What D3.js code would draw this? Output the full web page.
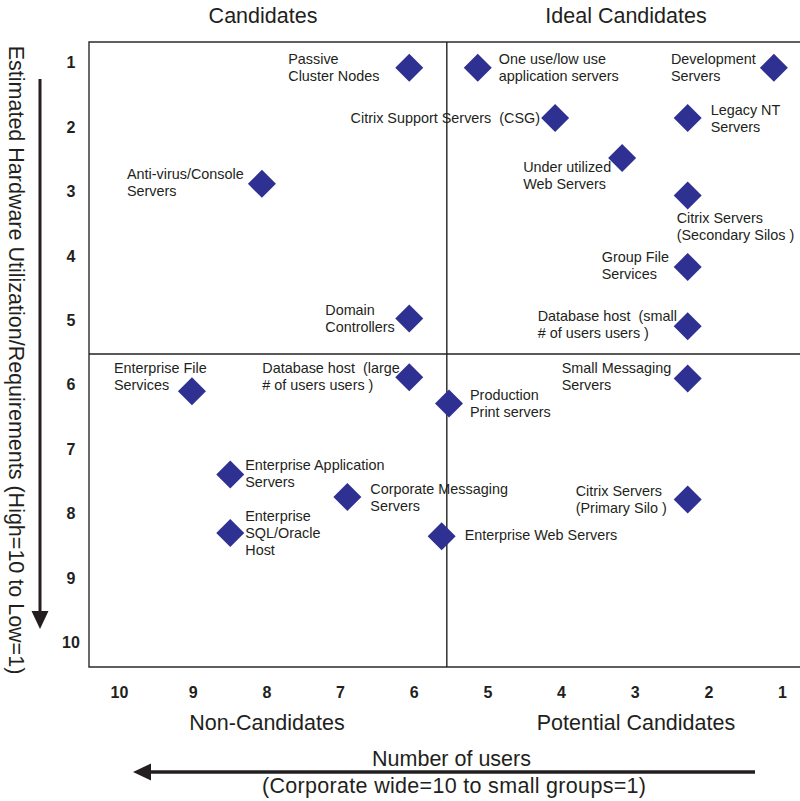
<!DOCTYPE html>
<html>
<head>
<meta charset="utf-8">
<script src="https://cdn.jsdelivr.net/npm/d3@7"></script>
<style>
  html, body { margin: 0; padding: 0; background: #fff; }
  svg { display: block; }
  text { font-family: "Liberation Sans", Arial, Helvetica, sans-serif; fill: #231f20; white-space: pre; }
</style>
</head>
<body>
<svg id="chart" width="800" height="801"></svg>
<script>
// Server roles: number of users (10 = corporate wide .. 1 = small groups)
// against estimated hardware utilization (10 = high .. 1 = low).
const serverNames = [
  "Passive\nCluster Nodes",
  "One use/low use\napplication servers",
  "Development\nServers",
  "Citrix Support Servers  (CSG)",
  "Legacy NT\nServers",
  "Under utilized\nWeb Servers",
  "Citrix Servers\n(Secondary Silos )",
  "Group File\nServices",
  "Database host  (small\n# of users users )",
  "Small Messaging\nServers",
  "Anti-virus/Console\nServers",
  "Domain\nControllers",
  "Enterprise File\nServices",
  "Database host  (large\n# of users users )",
  "Production\nPrint servers",
  "Enterprise Application\nServers",
  "Corporate Messaging\nServers",
  "Enterprise\nSQL/Oracle\nHost",
  "Enterprise Web Servers",
  "Citrix Servers\n(Primary Silo )"
];
const userScores = [6.06, 5.13, 1.11, 4.08, 2.28, 3.17, 2.28, 2.28, 2.28, 2.28,
                    8.06, 6.06, 9.01, 6.06, 5.52, 8.49, 6.90, 8.49, 5.62, 2.28];
const hardwareScores = [1.09, 1.09, 1.09, 1.87, 1.87, 2.49, 3.07, 4.18, 5.10, 5.91,
                        2.89, 4.98, 6.11, 5.89, 6.30, 7.40, 7.75, 8.31, 8.36, 7.79];

const xTickValues = [10, 9, 8, 7, 6, 5, 4, 3, 2, 1];
const yTickValues = [1, 2, 3, 4, 5, 6, 7, 8, 9, 10];
const quadrantTitles = ["Candidates", "Ideal Candidates", "Non-Candidates", "Potential Candidates"];
const xTitle = ["Number of users", "(Corporate wide=10 to small groups=1)"];
const yTitle = "Estimated Hardware Utilization/Requirements (High=10 to Low=1)";
const quadrantSplit = { users: 5.55, hardware: 5.53 };

// Label placement relative to each marker (pixels): [dx, dy of first baseline, anchor]
const labelPlacement = [
  [-121, -4, "start"], [21, -4, "start"], [-103, -4, "start"], [-15, 5, "end"],
  [23, -3, "start"], [-99, 14, "start"], [-11, 28, "start"], [-86, -5, "start"],
  [-150, -5, "start"], [-126, -5, "start"], [-135, -5, "start"], [-84, -3, "start"],
  [-78, -18, "start"], [-147, -4, "start"], [21, -4, "start"], [15, -4, "start"],
  [23, -3, "start"], [15, -12, "start"], [23, 4, "start"], [-112, -4, "start"]
];

const svg = d3.select("#chart");
const x = d3.scaleLinear().domain([10, 1]).range([119, 782]);
const y = d3.scaleLinear().domain([1, 10]).range([62, 642]);

const box = { left: 89, right: 800, top: 42, bottom: 667 };
const ink = "#231f20";

// Plot frame (open on the right)
svg.append("path")
  .attr("d", `M${box.right},${box.top}H${box.left}V${box.bottom}H${box.right}`)
  .attr("fill", "none").attr("stroke", "#2b2b2b").attr("stroke-width", 1.4);

// Quadrant dividers
svg.append("line")
  .attr("x1", box.left).attr("x2", box.right)
  .attr("y1", y(quadrantSplit.hardware)).attr("y2", y(quadrantSplit.hardware))
  .attr("stroke", "#222").attr("stroke-width", 1.6);
svg.append("line")
  .attr("x1", x(quadrantSplit.users)).attr("x2", x(quadrantSplit.users))
  .attr("y1", box.top).attr("y2", box.bottom)
  .attr("stroke", "#222").attr("stroke-width", 1.4);

// Tick labels
const xAxis = d3.axisBottom(x).tickValues(xTickValues).tickSize(0).tickPadding(0).tickFormat(d3.format("d"));
const gx = svg.append("g").attr("transform", "translate(0,687)").call(xAxis);
gx.select(".domain").remove();
gx.selectAll("text").attr("font-size", 16).attr("font-weight", "bold")
  .attr("font-family", "Liberation Sans, Arial, sans-serif").attr("fill", ink).attr("dy", "0.71em");

const yAxis = d3.axisLeft(y).tickValues(yTickValues).tickSize(0).tickPadding(0).tickFormat(d3.format("d"));
const gy = svg.append("g").attr("transform", "translate(71,0)").call(yAxis);
gy.select(".domain").remove();
gy.selectAll("text").attr("text-anchor", "middle").attr("font-size", 16).attr("font-weight", "bold")
  .attr("font-family", "Liberation Sans, Arial, sans-serif").attr("fill", ink).attr("dy", "0.36em");

// Quadrant titles
const titlePos = [[263, 23], [626, 23], [267, 730], [636, 730]];
svg.selectAll("text.quad").data(quadrantTitles).join("text")
  .attr("class", "quad")
  .attr("x", (d, i) => titlePos[i][0]).attr("y", (d, i) => titlePos[i][1])
  .attr("text-anchor", "middle").attr("font-size", 21.5).text(d => d);

// Axis titles
svg.append("text").attr("x", 451.5).attr("y", 766).attr("text-anchor", "middle")
  .attr("font-size", 21.5).text(xTitle[0]);
svg.append("text").attr("x", 454).attr("y", 793).attr("text-anchor", "middle")
  .attr("font-size", 21.5).attr("textLength", 384).attr("lengthAdjust", "spacing").text(xTitle[1]);
svg.append("text")
  .attr("transform", "translate(9,360) rotate(90)")
  .attr("text-anchor", "middle").attr("font-size", 21.5).text(yTitle);

// Direction arrows
svg.append("line").attr("x1", 755).attr("x2", 148).attr("y1", 772).attr("y2", 772)
  .attr("stroke", ink).attr("stroke-width", 3.4);
svg.append("path").attr("d", "M133,772L151,763.5L151,780.5Z").attr("fill", ink);
svg.append("line").attr("x1", 40).attr("x2", 40).attr("y1", 79).attr("y2", 614)
  .attr("stroke", ink).attr("stroke-width", 3);
svg.append("path").attr("d", "M40,629L31.5,611L48.5,611Z").attr("fill", ink);

// Markers
const points = serverNames.map((name, i) => ({ name, users: userScores[i], hw: hardwareScores[i], i }));
const diamond = d3.symbol().type(d3.symbolSquare).size(392);
svg.append("g").selectAll("path").data(points).join("path")
  .attr("d", diamond)
  .attr("transform", d => `translate(${x(d.users)},${y(d.hw)}) rotate(45)`)
  .attr("fill", "#2e3192");

// Labels
const labels = svg.append("g").selectAll("text").data(points).join("text")
  .attr("font-size", 14.4)
  .attr("text-anchor", d => labelPlacement[d.i][2])
  .attr("x", d => x(d.users) + labelPlacement[d.i][0])
  .attr("y", d => y(d.hw) + labelPlacement[d.i][1]);
labels.each(function(d) {
  const t = d3.select(this);
  const lx = x(d.users) + labelPlacement[d.i][0];
  d.name.split("\n").forEach((line, k) => {
    t.append("tspan").attr("x", lx).attr("dy", k === 0 ? 0 : 17).text(line);
  });
});
</script>
</body>
</html>
